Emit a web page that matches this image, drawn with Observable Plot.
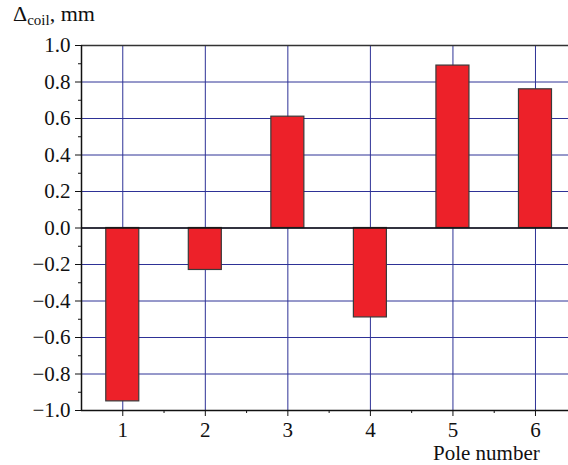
<!DOCTYPE html>
<html>
<head>
<meta charset="utf-8">
<script src="https://cdn.jsdelivr.net/npm/d3@7"></script>
<script src="https://cdn.jsdelivr.net/npm/@observablehq/plot@0.6"></script>
<style>
  html, body { margin: 0; padding: 0; background: #fff; }
  #wrap { position: relative; width: 568px; height: 465px; font-family: "Liberation Serif", "DejaVu Serif", serif; }
  #ylab { position: absolute; left: 13px; top: 2px; font-size: 22px; line-height: 24px; color: #111; white-space: nowrap; }
  #ylab sub { font-size: 15px; vertical-align: -4px; line-height: 0; }
  #xlab { position: absolute; left: 433px; top: 443px; font-size: 21px; line-height: 20px; color: #111; white-space: nowrap; }
  #chart svg text { font-family: "Liberation Serif", "DejaVu Serif", serif; }
</style>
</head>
<body>
<div id="wrap">
  <div id="chart"></div>
  <div id="ylab">Δ<sub>coil</sub>, mm</div>
  <div id="xlab">Pole number</div>
</div>
<script>
const poles = [1, 2, 3, 4, 5, 6];
const deltas = [-0.95, -0.23, 0.61, -0.49, 0.89, 0.76];
const yMajorTicks = [-1.0, -0.8, -0.6, -0.4, -0.2, 0.0, 0.2, 0.4, 0.6, 0.8, 1.0];
const yMinorTicks = [-0.9, -0.7, -0.5, -0.3, -0.1, 0.1, 0.3, 0.5, 0.7, 0.9];
const xMajorTicks = [1, 2, 3, 4, 5, 6];
const xMinorTicks = [1.5, 2.5, 3.5, 4.5, 5.5];

const data = poles.map((p, i) => ({pole: p, delta: deltas[i]}));
const halfWidth = 0.2;
const gridColor = "#2E3296";

const chart = Plot.plot({
  width: 568,
  height: 465,
  marginLeft: 81,
  marginRight: 0,
  marginTop: 45,
  marginBottom: 55,
  style: {fontFamily: "'Liberation Serif', 'DejaVu Serif', serif", fontSize: "21px", color: "#111", background: "#fff"},
  x: {type: "linear", domain: [0.5, 6.4]},
  y: {domain: [-1, 1]},
  marks: [
    Plot.gridY(yMajorTicks, {stroke: gridColor, strokeOpacity: 1, strokeWidth: 1}),
    Plot.gridX(xMajorTicks, {stroke: gridColor, strokeOpacity: 1, strokeWidth: 1}),
    Plot.rectY(data, {
      x1: d => d.pole - halfWidth,
      x2: d => d.pole + halfWidth,
      y1: 0,
      y2: "delta",
      fill: "#ED2129",
      stroke: "#3a3a3a",
      strokeWidth: 1.2
    }),
    Plot.ruleY([0], {stroke: "#111", strokeWidth: 1.5}),
    Plot.ruleY([1], {stroke: "#333", strokeWidth: 1.5}),
    Plot.ruleY([-1], {stroke: "#111", strokeWidth: 1.5}),
    Plot.ruleX([0.5], {stroke: "#111", strokeWidth: 1.5}),
    Plot.axisY(yMajorTicks, {tickSize: 6, tickPadding: 5, tickFormat: d3.format(".1f"), label: null, stroke: "#111"}),
    Plot.axisY(yMinorTicks, {tickSize: 3, tickFormat: () => "", label: null, stroke: "#111"}),
    Plot.axisX(xMajorTicks, {tickSize: 6, tickPadding: 6, tickFormat: d3.format("d"), label: null, stroke: "#111"}),
    Plot.axisX(xMinorTicks, {tickSize: 3, tickFormat: () => "", label: null, stroke: "#111"})
  ]
});
document.getElementById("chart").appendChild(chart);
</script>
</body>
</html>
